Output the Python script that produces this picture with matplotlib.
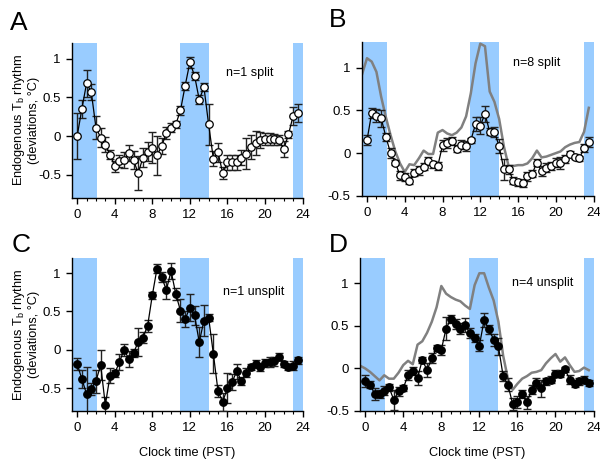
import numpy as np
import matplotlib
matplotlib.use("Agg")
import matplotlib.pyplot as plt
from matplotlib.ticker import MultipleLocator

plt.rcParams['font.family'] = ['Liberation Sans', 'DejaVu Sans']
plt.rcParams['mathtext.default'] = 'regular'

# ---- data ----
hours = np.arange(0, 24, 0.5)          # sampling times of the means (48)
gray_hours = np.arange(-0.5, 24, 0.5)  # sampling times of the gray curves (49)

a_mean = [0.00, 0.35, 0.68, 0.57, 0.11, -0.02, -0.11, -0.24, -0.39, -0.32,
          -0.31, -0.22, -0.31, -0.48, -0.28, -0.20, -0.15, -0.25, -0.13, 0.04,
          0.11, 0.15, 0.33, 0.65, 0.95, 0.78, 0.47, 0.63, 0.15, -0.29,
          -0.21, -0.48, -0.34, -0.34, -0.34, -0.28, -0.23, -0.14, -0.09, -0.05,
          -0.04, -0.04, -0.04, -0.05, -0.17, 0.02, 0.26, 0.30]
a_err = [0.30, 0.12, 0.17, 0.10, 0.15, 0.12, 0.10, 0.06, 0.07, 0.08,
         0.10, 0.10, 0.12, 0.22, 0.12, 0.12, 0.20, 0.25, 0.10, 0.08,
         0.06, 0.05, 0.06, 0.05, 0.07, 0.05, 0.06, 0.05, 0.27, 0.10,
         0.12, 0.08, 0.10, 0.10, 0.10, 0.10, 0.20, 0.15, 0.15, 0.10,
         0.08, 0.08, 0.07, 0.06, 0.10, 0.05, 0.12, 0.12]

b_mean = [0.15, 0.47, 0.44, 0.41, 0.19, 0.00, -0.11, -0.26, -0.28, -0.32,
          -0.23, -0.20, -0.16, -0.09, -0.13, -0.15, 0.09, 0.12, 0.14, 0.05,
          0.10, 0.08, 0.15, 0.34, 0.32, 0.46, 0.25, 0.25, 0.08, -0.19,
          -0.19, -0.32, -0.34, -0.35, -0.27, -0.24, -0.11, -0.21, -0.17, -0.15,
          -0.11, -0.12, -0.07, -0.01, -0.04, -0.06, 0.06, 0.13]
b_err = [0.06, 0.06, 0.08, 0.10, 0.05, 0.06, 0.03, 0.05, 0.05, 0.04,
         0.04, 0.05, 0.04, 0.05, 0.04, 0.05, 0.06, 0.06, 0.05, 0.04,
         0.05, 0.06, 0.03, 0.08, 0.10, 0.09, 0.04, 0.06, 0.08, 0.12,
         0.05, 0.04, 0.04, 0.04, 0.05, 0.04, 0.04, 0.06, 0.05, 0.05,
         0.05, 0.07, 0.05, 0.03, 0.03, 0.03, 0.05, 0.06]
b_gray = [0.93, 1.11, 1.07, 0.95, 0.66, 0.42, 0.21, 0.02, -0.12, -0.22,
          -0.13, -0.14, -0.06, 0.03, -0.01, -0.01, 0.24, 0.27, 0.23, 0.21,
          0.24, 0.30, 0.43, 0.70, 1.05, 1.28, 1.25, 0.72, 0.60, 0.40,
          0.08, -0.15, -0.15, -0.14, -0.14, -0.12, -0.06, 0.03, -0.05, -0.04,
          -0.02, 0.00, 0.02, 0.07, 0.10, 0.12, 0.13, 0.25, 0.53]

c_mean = [-0.19, -0.38, -0.58, -0.51, -0.41, -0.20, -0.72, -0.34, -0.31, -0.16,
          0.00, -0.12, -0.04, 0.10, 0.16, 0.31, 0.71, 1.06, 0.95, 0.78,
          1.03, 0.73, 0.51, 0.40, 0.55, 0.45, 0.10, 0.38, 0.42, -0.05,
          -0.54, -0.68, -0.50, -0.42, -0.28, -0.41, -0.30, -0.22, -0.18, -0.23,
          -0.17, -0.16, -0.15, -0.09, -0.19, -0.23, -0.21, -0.14]
c_err = [0.08, 0.12, 0.35, 0.08, 0.15, 0.20, 0.10, 0.10, 0.05, 0.10,
         0.08, 0.10, 0.05, 0.18, 0.07, 0.08, 0.05, 0.06, 0.07, 0.12,
         0.10, 0.08, 0.15, 0.10, 0.18, 0.12, 0.20, 0.20, 0.05, 0.25,
         0.08, 0.12, 0.20, 0.10, 0.10, 0.05, 0.06, 0.04, 0.04, 0.05,
         0.05, 0.06, 0.06, 0.05, 0.04, 0.04, 0.06, 0.05]

d_mean = [-0.15, -0.19, -0.30, -0.30, -0.26, -0.22, -0.37, -0.27, -0.23, -0.08,
          -0.03, -0.11, 0.10, -0.02, 0.12, 0.24, 0.22, 0.47, 0.58, 0.52,
          0.47, 0.51, 0.42, 0.36, 0.27, 0.57, 0.46, 0.34, 0.26, -0.09,
          -0.19, -0.42, -0.39, -0.30, -0.40, -0.25, -0.17, -0.23, -0.15, -0.13,
          -0.06, -0.06, -0.01, -0.13, -0.18, -0.15, -0.13, -0.17]
d_err = [0.07, 0.04, 0.07, 0.05, 0.05, 0.04, 0.12, 0.05, 0.04, 0.06,
         0.05, 0.08, 0.04, 0.08, 0.06, 0.04, 0.06, 0.14, 0.05, 0.06,
         0.06, 0.08, 0.06, 0.05, 0.07, 0.08, 0.05, 0.07, 0.10, 0.06,
         0.08, 0.07, 0.07, 0.05, 0.08, 0.05, 0.06, 0.10, 0.04, 0.04,
         0.04, 0.04, 0.03, 0.05, 0.04, 0.04, 0.04, 0.04]
d_gray = [0.03, 0.00, -0.04, -0.09, -0.14, -0.08, -0.12, -0.12, -0.05, 0.04,
          0.09, 0.05, 0.28, 0.32, 0.42, 0.55, 0.72, 0.97, 0.88, 0.84,
          0.81, 0.79, 0.74, 0.70, 0.98, 1.12, 1.12, 0.95, 0.80, 0.55,
          0.15, -0.12, -0.25, -0.18, -0.12, -0.09, -0.05, -0.04, -0.02, 0.06,
          0.12, 0.17, 0.08, 0.13, 0.04, -0.04, -0.03, 0.01, -0.02]

# shaded (blue) intervals, hours
bands = [(-0.6, 2.1), (10.9, 14.0), (23.0, 24.1)]

panel_letters = ['A', 'B', 'C', 'D']
panel_notes = ['n=1 split', 'n=8 split', 'n=1 unsplit', 'n=4 unsplit']
x_ticks = [0, 4, 8, 12, 16, 20, 24]
ylabel_text = 'Endogenous T$_{b}$ rhythm\n(deviations, \u00b0C)'
xlabel_text = 'Clock time (PST)'

BLUE = '#99ccff'
GRAY = '#808080'

fig = plt.figure(figsize=(6.0, 4.61), dpi=100)

positions = [
    [0.120, 0.5705, 0.385, 0.336],
    [0.603, 0.5750, 0.387, 0.334],
    [0.120, 0.1085, 0.385, 0.332],
    [0.600, 0.1085, 0.390, 0.332],
]
ylims = [(-0.8, 1.2), (-0.5, 1.3), (-0.8, 1.2), (-0.5, 1.3)]
note_xy = [(15.9, 0.81), (15.5, 1.05), (15.5, 0.75), (15.4, 1.0)]

series = [
    (a_mean, a_err, None, 'white'),
    (b_mean, b_err, b_gray, 'white'),
    (c_mean, c_err, None, 'black'),
    (d_mean, d_err, d_gray, 'black'),
]

axes = []
for i, (mean, err, gray, face) in enumerate(series):
    ax = fig.add_axes(positions[i])
    axes.append(ax)
    for (x0, x1) in bands:
        ax.axvspan(x0, x1, color=BLUE, lw=0, zorder=0)
    if gray is not None:
        ax.plot(gray_hours, gray, color=GRAY, lw=1.8, zorder=2)
    ax.errorbar(hours, mean, yerr=err, fmt='none', ecolor='#222222',
                elinewidth=1.0, capsize=3.2, capthick=1.0, zorder=3)
    ax.plot(hours, mean, '-', color='black', lw=0.9, zorder=4)
    ax.plot(hours, mean, 'o', mfc=face, mec='black', mew=0.9, ms=5.4,
            zorder=5, ls='none')
    ax.set_xlim(-0.55, 24.05)
    ax.set_ylim(*ylims[i])
    ax.set_xticks(x_ticks)
    ax.xaxis.set_minor_locator(MultipleLocator(1))
    ax.yaxis.set_major_locator(MultipleLocator(0.5))
    ax.yaxis.set_major_formatter(matplotlib.ticker.FuncFormatter(
        lambda v, p: ('%g' % v)))
    for s in ['top', 'right']:
        ax.spines[s].set_visible(False)
    for s in ['left', 'bottom']:
        ax.spines[s].set_linewidth(1.0)
    ax.tick_params(axis='both', which='major', direction='out', length=4,
                   width=1.0, labelsize=9.5, pad=4)
    ax.tick_params(axis='x', which='minor', direction='out', length=2.5,
                   width=0.8)
    ax.text(note_xy[i][0], note_xy[i][1], panel_notes[i], fontsize=9,
            ha='left', va='center')

# panel letters
fig.text(0.017, 0.935, 'A', fontsize=19, ha='left', va='baseline')
fig.text(0.548, 0.941, 'B', fontsize=19, ha='left', va='baseline')
fig.text(0.020, 0.453, 'C', fontsize=19, ha='left', va='baseline')
fig.text(0.548, 0.454, 'D', fontsize=19, ha='left', va='baseline')

# y labels on left panels
fig.text(0.043, 0.739, ylabel_text, rotation=90, ha='center', va='center',
         fontsize=9.2, multialignment='center', linespacing=1.1)
fig.text(0.043, 0.274, ylabel_text, rotation=90, ha='center', va='center',
         fontsize=9.2, multialignment='center', linespacing=1.1)

# x labels on bottom panels
axes[2].set_xlabel(xlabel_text, fontsize=9.2, labelpad=9)
axes[3].set_xlabel(xlabel_text, fontsize=9.2, labelpad=9)

fig.savefig('out.png', dpi=100)
